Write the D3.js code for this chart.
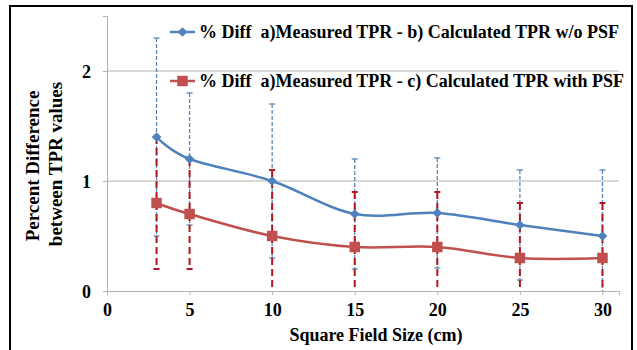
<!DOCTYPE html>
<html>
<head>
<meta charset="utf-8">
<script src="https://cdn.jsdelivr.net/npm/d3@7"></script>
<style>
  body { margin: 0; background: #fff; }
</style>
</head>
<body>
<svg id="chart" width="637" height="350"></svg>
<script>
// field sizes (cm)
const fieldSizes = [3, 5, 10, 15, 20, 25, 30];
// % diff a) measured - b) calculated w/o PSF
const diffNoPsf = [1.4, 1.2, 1.0, 0.7, 0.71, 0.6, 0.5];
const errNoPsf = [0.9, 0.6, 0.7, 0.5, 0.5, 0.5, 0.6];
// % diff a) measured - c) calculated with PSF
const diffPsf = [0.8, 0.7, 0.5, 0.4, 0.4, 0.3, 0.3];
const errPsf = [0.6, 0.5, 0.6, 0.5, 0.5, 0.5, 0.5];
const xTicks = [0, 5, 10, 15, 20, 25, 30];
const yTicks = [0, 1, 2];
const seriesNames = [
  "% Diff  a)Measured TPR - b) Calculated TPR w/o PSF",
  "% Diff  a)Measured TPR - c) Calculated TPR with PSF"
];

const FONT = "'Liberation Serif', 'Times New Roman', 'DejaVu Serif', serif";

const svg = d3.select("#chart");

// outer frame
svg.append("rect")
  .attr("x", 10).attr("y", 6)
  .attr("width", 622).attr("height", 350)
  .attr("fill", "none").attr("stroke", "#000").attr("stroke-width", 2);

const x = d3.scaleLinear().domain([0, 31]).range([107, 619]);
const y = d3.scaleLinear().domain([0, 2.5]).range([291, 16]);

svg.append("defs").append("clipPath").attr("id", "plot")
  .append("rect").attr("x", 107).attr("y", 16).attr("width", 512).attr("height", 275);

// gridlines
svg.append("g")
  .selectAll("line")
  .data(yTicks.filter(d => d > 0))
  .join("line")
  .attr("x1", x(0)).attr("x2", x(31))
  .attr("y1", d => y(d)).attr("y2", d => y(d))
  .attr("stroke", "#b3b3b3").attr("stroke-width", 1);

// axes
const xAxis = svg.append("g")
  .attr("transform", `translate(0,${y(0)})`)
  .call(d3.axisBottom(x).tickValues(xTicks).tickSize(4).tickPadding(8).tickFormat(d3.format("d")));
const yAxis = svg.append("g")
  .attr("transform", `translate(${x(0)},0)`)
  .call(d3.axisLeft(y).tickValues(yTicks).tickSize(4).tickPadding(12).tickFormat(d3.format("d")));
[xAxis, yAxis].forEach(a => {
  a.attr("font-family", FONT).attr("font-size", 18).attr("font-weight", "bold");
  a.select(".domain").attr("stroke", "#b3b3b3");
  a.selectAll(".tick line").attr("stroke", "#b3b3b3");
  a.selectAll("text").attr("fill", "#000");
});
yAxis.selectAll("text").attr("dy", "0.35em");

const dataNo = fieldSizes.map((f, i) => ({ x: f, y: diffNoPsf[i], e: errNoPsf[i] }));
const dataPsf = fieldSizes.map((f, i) => ({ x: f, y: diffPsf[i], e: errPsf[i] }));

const plot = svg.append("g").attr("clip-path", "url(#plot)");

function errorBars(data, color, width, dash, capW) {
  const g = plot.append("g");
  g.selectAll("line.v").data(data).join("line").attr("class", "v")
    .attr("x1", d => x(d.x)).attr("x2", d => x(d.x))
    .attr("y1", d => y(d.y + d.e)).attr("y2", d => y(d.y - d.e))
    .attr("stroke", color).attr("stroke-width", width).attr("stroke-dasharray", dash);
  ["top", "bot"].forEach(k => {
    g.selectAll("line." + k).data(data).join("line").attr("class", k)
      .attr("x1", d => x(d.x) - capW).attr("x2", d => x(d.x) + capW)
      .attr("y1", d => y(k === "top" ? d.y + d.e : d.y - d.e))
      .attr("y2", d => y(k === "top" ? d.y + d.e : d.y - d.e))
      .attr("stroke", color).attr("stroke-width", width);
  });
}
errorBars(dataNo, "#5b86b8", 1.3, "4,2", 3);
errorBars(dataPsf, "#b0161e", 2, "7,4", 3);

const line = d3.line().x(d => x(d.x)).y(d => y(d.y)).curve(d3.curveCardinal.tension(0));

plot.append("path").datum(dataPsf).attr("d", line)
  .attr("fill", "none").attr("stroke", "#c0504d").attr("stroke-width", 2.5);
plot.append("path").datum(dataNo).attr("d", line)
  .attr("fill", "none").attr("stroke", "#4f81bd").attr("stroke-width", 2.5);

const diamond = d3.symbol().type(d3.symbolDiamond2).size(60);
const square = d3.symbol().type(d3.symbolSquare).size(110);

svg.append("g").selectAll("path").data(dataPsf).join("path")
  .attr("transform", d => `translate(${x(d.x)},${y(d.y)})`)
  .attr("d", square).attr("fill", "#c0504d");
svg.append("g").selectAll("path").data(dataNo).join("path")
  .attr("transform", d => `translate(${x(d.x)},${y(d.y)})`)
  .attr("d", diamond).attr("fill", "#4f81bd");

// legend
const legend = svg.append("g")
  .attr("font-family", FONT).attr("font-size", 18).attr("font-weight", "bold");
const legendItems = [
  { name: seriesNames[0], color: "#4f81bd", sym: diamond, y: 32 },
  { name: seriesNames[1], color: "#c0504d", sym: square, y: 81 }
];
legendItems.forEach(it => {
  legend.append("line").attr("x1", 170).attr("x2", 195).attr("y1", it.y).attr("y2", it.y)
    .attr("stroke", it.color).attr("stroke-width", 2.5);
  legend.append("path").attr("transform", `translate(182.5,${it.y})`).attr("d", it.sym).attr("fill", it.color);
  legend.append("text").attr("x", 199).attr("y", it.y).attr("dy", "0.35em")
    .attr("xml:space", "preserve").text(it.name);
});

// axis titles
const titles = svg.append("g")
  .attr("font-family", FONT).attr("font-size", 18).attr("font-weight", "bold");
titles.append("text").attr("x", 376).attr("y", 335).attr("dy", "0.35em")
  .attr("text-anchor", "middle").text("Square Field Size (cm)");
titles.append("text").attr("transform", "translate(32,166) rotate(-90)")
  .attr("text-anchor", "middle").attr("dy", "0.35em").attr("font-size", 19).text("Percent Difference");
titles.append("text").attr("transform", "translate(55,164) rotate(-90)")
  .attr("text-anchor", "middle").attr("dy", "0.35em").attr("font-size", 19).text("between TPR values");
</script>
</body>
</html>
